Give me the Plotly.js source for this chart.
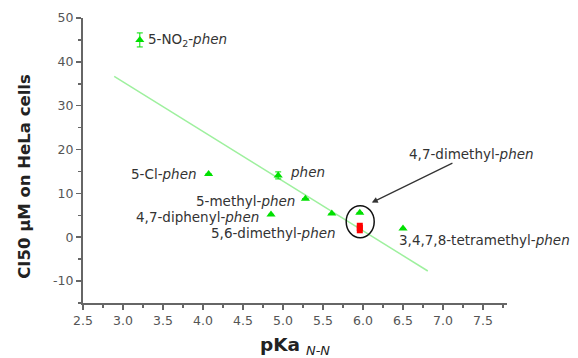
<!DOCTYPE html>
<html>
<head>
<meta charset="utf-8">
<script src="https://cdn.plot.ly/plotly-3.0.1.min.js"></script>
<style>html,body{margin:0;padding:0;background:#fff}#chart{width:578px;height:358px}</style>
</head>
<body>
<div id="chart"></div>
<script>
// Data
const ligands = ['5-NO<sub>2</sub>-<i>phen</i>', '5-Cl-<i>phen</i>', '<i>phen</i>', '5-methyl-<i>phen</i>',
                 '4,7-diphenyl-<i>phen</i>', '5,6-dimethyl-<i>phen</i>', '4,7-dimethyl-<i>phen</i>', '3,4,7,8-tetramethyl-<i>phen</i>'];
const pKa = [3.21, 4.07, 4.94, 5.28, 4.85, 5.61, 5.96, 6.50];
const ci50 = [45.0, 14.4, 14.1, 8.8, 5.2, 5.4, 5.6, 2.0];
const ci50Err = [1.6, 0, 0.8, 0, 0, 0, 0, 0];
const redX = [5.96];
const redY = [2.1];
const redErr = [1.2];
const fitX = [2.89, 6.81];
const fitY = [36.7, -7.7];
const yTickVals = [-10, 0, 10, 20, 30, 40, 50];
const yTickText = ['-10', '0', '10', '20', '30', '40', '50'];

// label placement (styles only)
const labelStyle = [
  {xanchor:'left', xshift:6, yshift:0},
  {xanchor:'right', xshift:-10, yshift:0},
  {xanchor:'left', xshift:10, yshift:3},
  {xanchor:'right', xshift:-8, yshift:-2},
  {xanchor:'right', xshift:-10, yshift:-3},
  {xanchor:'right', xshift:6, yshift:-19},
  null,
  {xanchor:'left', xshift:-6, yshift:-12}
];

const font = 'DejaVu Sans, Verdana, sans-serif';
const labelSize = 13.5;
const traces = [
  {x: fitX, y: fitY, mode: 'lines', line: {color: '#9ef09e', width: 1.5}, hoverinfo: 'skip'},
  {x: pKa, y: ci50, mode: 'markers', marker: {symbol: 'triangle-up', size: 8, color: '#00e000'},
   error_y: {type: 'data', array: ci50Err, visible: true, color: '#00e000', thickness: 1, width: 3}},
  {x: redX, y: redY, mode: 'markers', marker: {symbol: 'square', size: 6, color: '#ff0000'},
   error_y: {type: 'data', array: redErr, visible: true, color: '#ff0000', thickness: 6, width: 0}}
];

const annotations = [];
ligands.forEach((t, i) => {
  const s = labelStyle[i];
  if (!s) return;
  annotations.push({x: pKa[i], y: ci50[i], xref: 'x', yref: 'y', text: t, showarrow: false,
    xanchor: s.xanchor, yanchor: 'middle', xshift: s.xshift, yshift: s.yshift,
    font: {family: font, size: labelSize, color: '#333'}});
});
annotations.push({x: 6.11, y: 7.9, xref: 'x', yref: 'y', text: ligands[6], showarrow: true,
  ax: 100, ay: -49, arrowhead: 2, arrowsize: 1, arrowwidth: 1.2, arrowcolor: '#333',
  font: {family: font, size: labelSize, color: '#333'}});
// y-axis title
annotations.push({xref: 'paper', yref: 'paper', x: -0.137, y: 0.446, xanchor: 'center', yanchor: 'middle',
  text: '<b>CI50 μM on HeLa cells</b>', textangle: -90, showarrow: false,
  font: {family: font, size: 16.5, color: '#222'}});

const layout = {
  width: 578, height: 358,
  margin: {l: 83, r: 71, t: 18, b: 55},
  paper_bgcolor: '#fff', plot_bgcolor: '#fff',
  showlegend: false,
  font: {family: font, color: '#555'},
  xaxis: {range: [2.5, 7.8], dtick: 0.5, tick0: 2.5, tickformat: '.1f', showgrid: false, zeroline: false,
    showline: true, linecolor: '#666', linewidth: 2, ticks: 'outside', ticklen: 5, tickwidth: 1.5, tickcolor: '#666',
    minor: {dtick: 0.25, ticks: 'outside', ticklen: 3, tickcolor: '#666', tickwidth: 1.5, showgrid: false},
    tickfont: {family: font, size: 12.5, color: '#555'},
    title: {text: '<b>pKa</b> <sub><i>N-N</i></sub>', font: {family: font, size: 18.5, color: '#222'}, standoff: 12}},
  yaxis: {range: [-15, 50], tickmode: 'array', tickvals: yTickVals, ticktext: yTickText, showgrid: false, zeroline: false,
    showline: true, linecolor: '#666', linewidth: 2, ticks: 'outside', ticklen: 5, tickwidth: 1.5, tickcolor: '#666',
    minor: {dtick: 5, tick0: 0, ticks: 'outside', ticklen: 3, tickcolor: '#666', tickwidth: 1.5, showgrid: false},
    tickfont: {family: font, size: 12.5, color: '#555'}},
  shapes: [{type: 'circle', xref: 'x', yref: 'y', x0: 5.79, x1: 6.14, y0: -0.1, y1: 7.2,
    line: {color: '#111', width: 1.5}}],
  annotations: annotations
};

Plotly.newPlot('chart', traces, layout, {staticPlot: true, displayModeBar: false});
</script>
</body>
</html>
